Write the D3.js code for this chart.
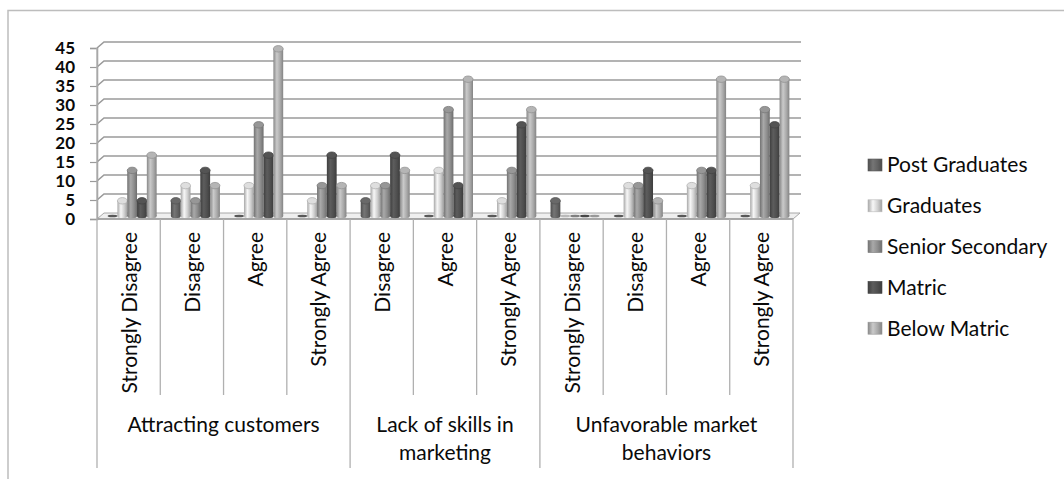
<!DOCTYPE html>
<html>
<head>
<meta charset="utf-8">
<script src="https://cdn.jsdelivr.net/npm/d3@7"></script>
<style>
  html, body { margin: 0; padding: 0; background: #fff; }
  svg { display: block; }
  text { font-family: Lato, "Open Sans", sans-serif; fill: #0a0a0a; }
</style>
</head>
<body>
<svg id="chart" width="1064" height="479"></svg>
<script>
// ---------- data ----------
const groups = ["Attracting customers", "Lack of skills in marketing", "Unfavorable market behaviors"];
const groupLines = [["Attracting customers"], ["Lack of skills in", "marketing"], ["Unfavorable market", "behaviors"]];
const responses = [
  ["Strongly Disagree", "Disagree", "Agree", "Strongly Agree"],
  ["Disagree", "Agree", "Strongly Agree"],
  ["Strongly Disagree", "Disagree", "Agree", "Strongly Agree"]
];
const series = ["Post Graduates", "Graduates", "Senior Secondary", "Matric", "Below Matric"];
const postGraduates   = [0, 4, 0, 0,   4, 0, 0,   4, 0, 0, 0];
const graduates       = [4, 8, 8, 4,   8, 12, 4,  0, 8, 8, 8];
const seniorSecondary = [12, 4, 24, 8, 8, 28, 12, 0, 8, 12, 28];
const matric          = [4, 12, 16, 16, 16, 8, 24, 0, 12, 12, 24];
const belowMatric     = [16, 8, 44, 8, 12, 36, 28, 0, 4, 36, 36];
const yTicks = [0, 5, 10, 15, 20, 25, 30, 35, 40, 45];
const seriesValues = [postGraduates, graduates, seniorSecondary, matric, belowMatric];
const seriesColors = ["#626262", "#cfcfcf", "#8d8d8d", "#4e4e4e", "#a9a9a9"];

(function () {
// ---------- layout ----------
const svg = d3.select("#chart");
const left = 97, right = 793, plotTop = 48, base = 219;
const dx = 7, dy = -6;           // 3D depth offset
const categories = [];
responses.forEach((arr, gi) => arr.forEach(r => categories.push({group: gi, label: r})));
const x = d3.scaleBand().domain(d3.range(categories.length)).range([left, right]).padding(0);
const y = d3.scaleLinear().domain([0, 45]).range([base, plotTop]);

// outer border
svg.append("path").attr("d", `M8,479 V10.5 H1064`).attr("fill", "none").attr("stroke", "#bdbdbd").attr("stroke-width", 1.5);

// gradients
const defs = svg.append("defs");
seriesColors.forEach((c, i) => {
  const g = defs.append("linearGradient").attr("id", "grad" + i).attr("x1", 0).attr("x2", 1).attr("y1", 0).attr("y2", 0);
  const col = d3.color(c);
  g.append("stop").attr("offset", "0%").attr("stop-color", col.darker(0.6));
  g.append("stop").attr("offset", "35%").attr("stop-color", col.brighter(0.5));
  g.append("stop").attr("offset", "70%").attr("stop-color", col);
  g.append("stop").attr("offset", "100%").attr("stop-color", col.darker(0.7));
});

// floor
svg.append("path")
  .attr("d", `M${left},${base} L${right},${base} L${right + dx},${base + dy} L${left + dx},${base + dy} Z`)
  .attr("fill", "#efefef").attr("stroke", "#a8a8a8").attr("stroke-width", 1);

// gridlines (back wall + side)
yTicks.forEach(t => {
  if (t === 0) return;
  const yy = y(t);
  svg.append("path")
    .attr("d", `M${left},${yy} L${left + dx},${yy + dy} L${right + dx + 1},${yy + dy}`)
    .attr("fill", "none").attr("stroke", "#9a9a9a").attr("stroke-width", 1.6);
});

// y axis
const yAxis = d3.axisLeft(y).tickValues(yTicks).tickSize(7).tickPadding(15);
const ya = svg.append("g").attr("transform", `translate(${left},0)`).call(yAxis);
ya.select(".domain").attr("stroke", "#9a9a9a").attr("stroke-width", 1.5);
ya.selectAll(".tick line").attr("stroke", "#9a9a9a").attr("stroke-width", 1.2);
ya.selectAll(".tick text").style("font-size", "17px").style("font-family", "Lato, sans-serif")
  .style("font-weight", "bold").attr("fill", "#0a0a0a").attr("dy", "0.34em");

// bars
const bw = 9.8;
const groupW = bw * series.length;
categories.forEach((c, ci) => {
  const x0 = x(ci) + (x.bandwidth() - groupW) / 2 + dx / 2;
  const yb = base + dy / 2;
  series.forEach((s, si) => {
    const v = seriesValues[si][ci];
    const bx = x0 + si * bw;
    const yt = y(v) + dy / 2;
    const col = d3.color(seriesColors[si]);
    if (v === 0) {
      svg.append("ellipse").attr("cx", bx + bw / 2).attr("cy", yb).attr("rx", bw / 2).attr("ry", 1.3)
        .attr("fill", col.darker(0.3));
      return;
    }
    svg.append("ellipse").attr("cx", bx + bw / 2).attr("cy", yb).attr("rx", bw / 2).attr("ry", 2.2)
      .attr("fill", `url(#grad${si})`);
    svg.append("rect").attr("x", bx).attr("y", yt).attr("width", bw).attr("height", yb - yt)
      .attr("fill", `url(#grad${si})`);
    svg.append("ellipse").attr("cx", bx + bw / 2).attr("cy", yt).attr("rx", bw / 2).attr("ry", 3.2)
      .attr("fill", col.brighter(0.2)).attr("stroke", col.darker(0.4)).attr("stroke-width", 0.8);
  });
});

// category axis
const axisG = svg.append("g");
axisG.append("line").attr("x1", left).attr("x2", right).attr("y1", base).attr("y2", base)
  .attr("stroke", "#9a9a9a").attr("stroke-width", 1.4);
let idx = 0;
const groupStarts = [];
responses.forEach((arr) => { groupStarts.push(idx); idx += arr.length; });
groupStarts.push(categories.length);
d3.range(categories.length + 1).forEach(i => {
  const xx = i < categories.length ? x(i) : right;
  const isGroup = groupStarts.includes(i);
  axisG.append("line").attr("x1", xx).attr("x2", xx).attr("y1", i === 0 ? plotTop : base).attr("y2", isGroup ? 468 : 395)
    .attr("stroke", "#b0b0b0").attr("stroke-width", 1.3);
});
categories.forEach((c, ci) => {
  const cx = x(ci) + x.bandwidth() / 2;
  axisG.append("text").attr("transform", `translate(${cx + 8},232) rotate(-90)`)
    .attr("text-anchor", "end").style("font-size", "21px").text(c.label);
});
groupLines.forEach((lines, gi) => {
  const x1 = x(groupStarts[gi]);
  const x2 = groupStarts[gi + 1] < categories.length ? x(groupStarts[gi + 1]) : right;
  const t = axisG.append("text").attr("text-anchor", "middle").style("font-size", "21px");
  lines.forEach((ln, li) => {
    t.append("tspan").attr("x", (x1 + x2) / 2).attr("y", 432 + li * 28).text(ln);
  });
});

// legend
const legend = svg.append("g").attr("transform", "translate(868,165)");
series.forEach((s, i) => {
  const g = legend.append("g").attr("transform", `translate(0,${i * 40.8})`);
  g.append("rect").attr("x", 0).attr("y", -6).attr("width", 14).attr("height", 12)
    .attr("fill", `url(#grad${i})`).attr("stroke", d3.color(seriesColors[i]).darker(0.3)).attr("stroke-width", 0.6);
  g.append("text").attr("x", 19).attr("y", 0).attr("dy", "0.35em").style("font-size", "21px").text(s);
});
})();
</script>
</body>
</html>
